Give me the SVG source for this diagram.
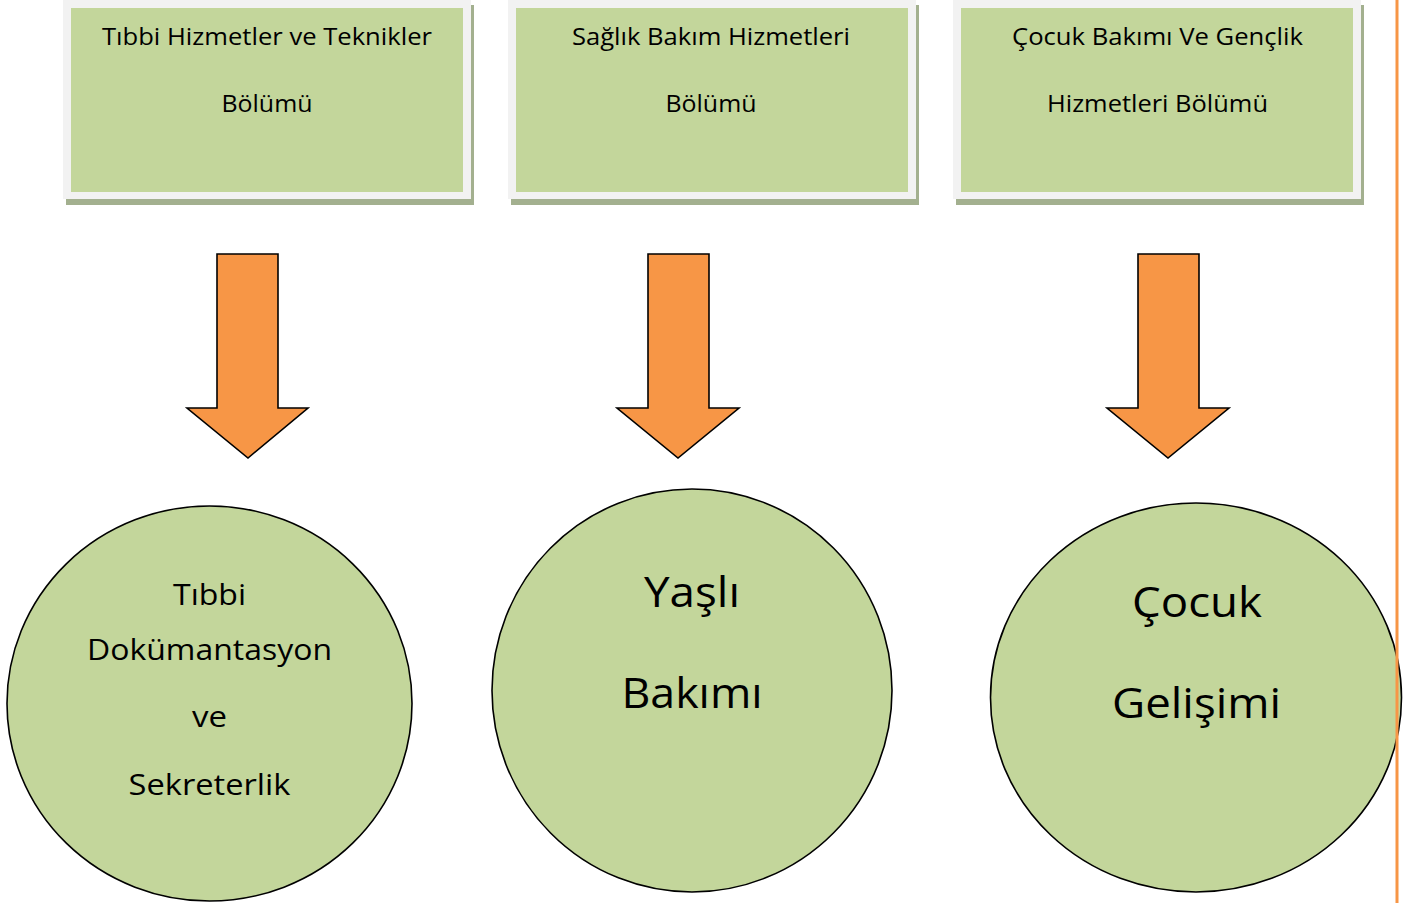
<svg xmlns="http://www.w3.org/2000/svg" width="1419" height="906" viewBox="0 0 1419 906">
<defs>
<style>
.shadow{fill:#a3b08f;}
.frame{fill:#f2f2f2;}
.inner{fill:#c3d69b;}
.arrow{fill:#f79646;stroke:#000;stroke-width:1.6;stroke-linejoin:miter;}
.circ{fill:#c3d69b;stroke:#000;stroke-width:1.6;}
.t{font-family:"Open Sans","Noto Sans",sans-serif;fill:#000;text-anchor:middle;}
.tb{font-size:23px;}
.tc1{font-size:29.5px;}
.tc2{font-size:42px;}
</style>
</defs>
<rect width="1419" height="906" fill="#ffffff"/>

<g id="box1">
<rect class="shadow" x="66" y="5" width="408" height="200"/>
<rect class="frame" x="63" y="0" width="408" height="199"/>
<rect class="inner" x="71" y="8" width="392" height="184"/>
<text class="t tb" x="267" y="45" textLength="330" lengthAdjust="spacingAndGlyphs">Tıbbi Hizmetler ve Teknikler</text>
<text class="t tb" x="267" y="112" textLength="91" lengthAdjust="spacingAndGlyphs">Bölümü</text>
</g>

<g id="box2">
<rect class="shadow" x="511" y="5" width="408" height="200"/>
<rect class="frame" x="508" y="0" width="408" height="199"/>
<rect class="inner" x="516" y="8" width="392" height="184"/>
<text class="t tb" x="711" y="45" textLength="278" lengthAdjust="spacingAndGlyphs">Sağlık Bakım Hizmetleri</text>
<text class="t tb" x="711" y="112" textLength="91" lengthAdjust="spacingAndGlyphs">Bölümü</text>
</g>

<g id="box3">
<rect class="shadow" x="956" y="5" width="408" height="200"/>
<rect class="frame" x="953" y="0" width="408" height="199"/>
<rect class="inner" x="961" y="8" width="392" height="184"/>
<text class="t tb" x="1157.5" y="45" textLength="291" lengthAdjust="spacingAndGlyphs">Çocuk Bakımı Ve Gençlik</text>
<text class="t tb" x="1157.5" y="112" textLength="221" lengthAdjust="spacingAndGlyphs">Hizmetleri Bölümü</text>
</g>

<g id="connectors">
<polygon class="arrow" points="217,254 278,254 278,408 308,408 248,458 187,408 217,408"/>
<polygon class="arrow" points="648,254 709,254 709,408 739,408 678,458 617,408 648,408"/>
<polygon class="arrow" points="1138,254 1199,254 1199,408 1229,408 1168,458 1107,408 1138,408"/>
</g>

<g id="circle1">
<ellipse class="circ" cx="209.5" cy="703.5" rx="202.5" ry="197.5"/>
<text class="t tc1" x="209.5" y="605" textLength="73" lengthAdjust="spacingAndGlyphs">Tıbbi</text>
<text class="t tc1" x="209.5" y="660" textLength="245" lengthAdjust="spacingAndGlyphs">Dokümantasyon</text>
<text class="t tc1" x="209.5" y="727" textLength="35" lengthAdjust="spacingAndGlyphs">ve</text>
<text class="t tc1" x="209.5" y="795" textLength="162" lengthAdjust="spacingAndGlyphs">Sekreterlik</text>
</g>

<g id="circle2">
<ellipse class="circ" cx="692" cy="690.5" rx="200" ry="201.5"/>
<text class="t tc2" x="692" y="607" textLength="96" lengthAdjust="spacingAndGlyphs">Yaşlı</text>
<text class="t tc2" x="692" y="708" textLength="141" lengthAdjust="spacingAndGlyphs">Bakımı</text>
</g>

<g id="circle3">
<ellipse class="circ" cx="1196" cy="697.5" rx="205.5" ry="194.5"/>
<text class="t tc2" x="1197" y="617" textLength="130" lengthAdjust="spacingAndGlyphs">Çocuk</text>
<text class="t tc2" x="1196.5" y="718" textLength="169" lengthAdjust="spacingAndGlyphs">Gelişimi</text>
</g>

<line x1="1397" y1="0" x2="1397" y2="903" stroke="#f79646" stroke-width="3"/>
</svg>
